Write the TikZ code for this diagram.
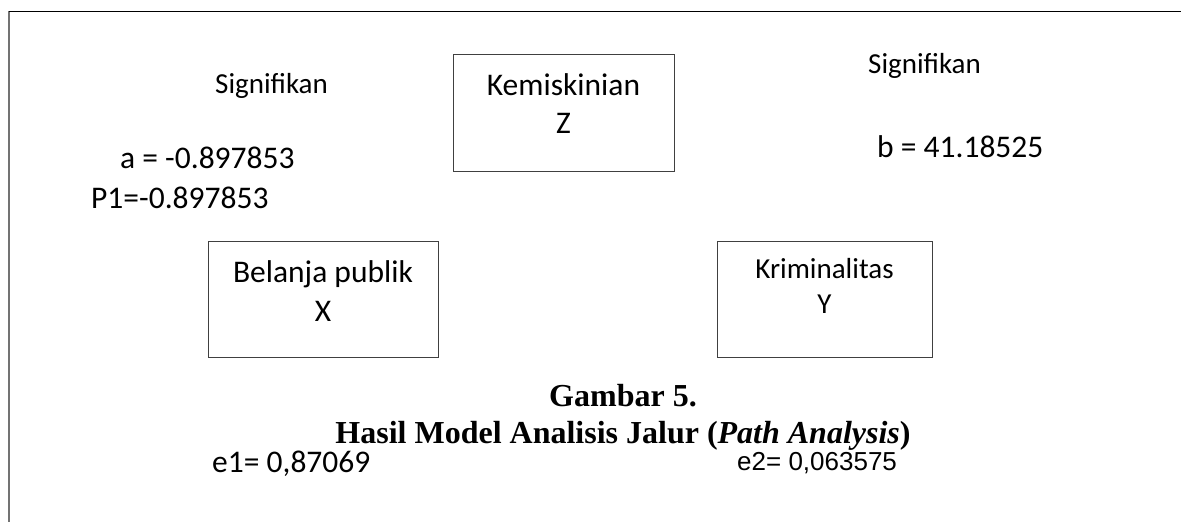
\documentclass[tikz,border=0pt]{standalone}
\usepackage{fontspec}
\setmainfont{Carlito}
\newfontfamily\arialf{Liberation Sans}
\newfontfamily\tnrf{Liberation Serif}
\begin{document}
\begin{tikzpicture}[x=1pt,y=-1pt,
  box/.style={draw=black!75,line width=0.9pt,anchor=north west,inner sep=0pt},
  txt/.style={inner sep=0pt,anchor=base west,font=\fontsize{31.5}{36}\selectfont},
  ctxt/.style={inner sep=0pt,anchor=base,font=\fontsize{31.5}{36}\selectfont},
  captxt/.style={inner sep=0pt,anchor=base,font=\tnrf\bfseries\fontsize{32}{36}\selectfont}]
\useasboundingbox (0,0) rectangle (1181,522);
% frame
\coordinate (fl) at (9,522);
\coordinate (fc) at (9,11);
\coordinate (fr) at (1181,11);
\draw[black!55,line width=1.2pt] (fl) -- (fc);
\draw[black,line width=1pt] (fc) -- (fr);
% boxes
\node[box,minimum width=221pt,minimum height=117pt] (z) at (453,54) {};
\node[ctxt] (z1) at (563.5,95) {Kemiskinian};
\node[ctxt] (z2) at (563.5,133) {Z};
\node[box,minimum width=230pt,minimum height=116pt] (x) at (208,241) {};
\node[ctxt] (x1) at (323,282) {Belanja publik};
\node[ctxt] (x2) at (323,321) {X};
\node[box,minimum width=215pt,minimum height=116pt] (y) at (717,241) {};
\node[ctxt,font=\fontsize{29}{34}\selectfont] (y1) at (824.5,278) {Kriminalitas};
\node[ctxt,font=\fontsize{29}{34}\selectfont] (y2) at (824.5,313) {Y};
% labels
\node[txt,font=\fontsize{29}{34}\selectfont] (s1) at (215,93) {Signifikan};
\node[txt] (a) at (120,168) {a = -0.897853};
\node[txt] (p1) at (91,208) {P1=-0.897853};
\node[txt,font=\fontsize{29}{34}\selectfont] (s2) at (868,73) {Signifikan};
\node[txt] (b) at (877,157) {b = 41.18525};
\node[txt] (e1) at (212,472) {e1= 0,87069};
\node[txt,font=\arialf\fontsize{26}{30}\selectfont] (e2) at (737,470) {e2= 0,063575};
% caption
\node[captxt] (g1) at (623,406) {Gambar 5.};
\node[captxt] (g2) at (623,443) {Hasil Model Analisis Jalur (\textit{Path Analysis})};
\end{tikzpicture}
\end{document}
